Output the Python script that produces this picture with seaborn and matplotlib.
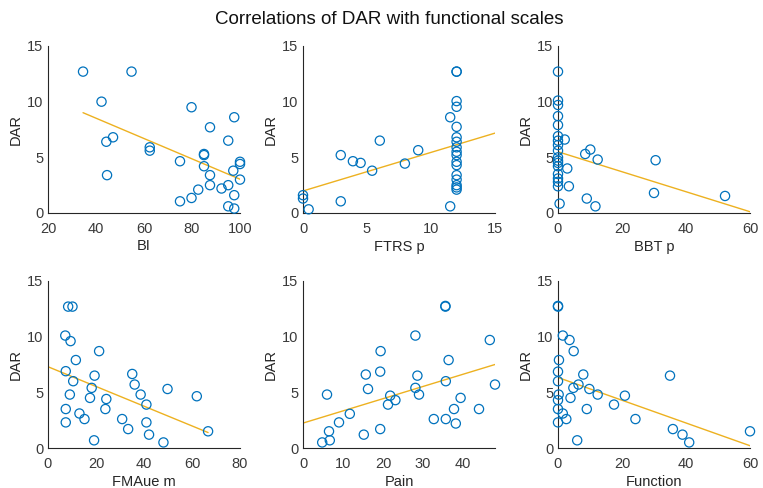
import numpy as np
import pandas as pd
import matplotlib
matplotlib.use("Agg")
import matplotlib.pyplot as plt
import seaborn as sns

# ---------------- data ----------------
title = "Correlations of DAR with functional scales"
y_label = "DAR"

bi = [34.6, 54.8, 42.3, 79.8, 97.6, 87.5, 47.1, 44.3, 95.1, 62.4, 62.4, 85, 85, 100, 100,
      75, 85, 97.2, 44.6, 87.5, 100, 82.6, 92.3, 87.5, 95.1, 97.6, 79.8, 75, 95.1, 97.6]
bi_dar = [12.7, 12.7, 10.0, 9.5, 8.6, 7.7, 6.8, 6.4, 6.5, 5.9, 5.6, 5.3, 5.2, 4.6, 4.4,
          4.65, 4.2, 3.8, 3.4, 3.4, 3.0, 2.1, 2.2, 2.5, 2.5, 1.6, 1.35, 1.05, 0.6, 0.4]

ftrs = [0, 0, 0.44, 2.95, 2.95, 3.9, 4.5, 5.4, 6.0, 7.96, 9.0, 11.5, 11.5,
        12, 12, 12, 12, 12, 12, 12, 12, 12, 12, 12, 12, 12, 12, 12, 12, 12]
ftrs_dar = [1.6, 1.3, 0.33, 5.2, 1.05, 4.65, 4.5, 3.8, 6.5, 4.44, 5.64, 8.6, 0.6,
            12.7, 12.7, 10.05, 9.54, 7.74, 6.8, 6.4, 5.9, 5.5, 4.6, 4.3, 3.4, 3.0, 2.5, 2.1, 2.3, 5.2]

bbt = [0, 0, 0, 0, 0, 0, 0, 0, 0, 0, 0, 0, 0, 0, 0, 0, 0, 0.5,
       2.1, 10.1, 8.5, 12.4, 2.9, 3.4, 9.0, 11.7, 30.5, 30.0, 52.2]
bbt_dar = [12.7, 10.1, 9.7, 8.7, 7.9, 6.9, 6.5, 6.1, 5.6, 5.0, 4.7, 4.5, 4.2, 3.5, 3.1, 2.8, 2.4, 0.84,
           6.6, 5.7, 5.3, 4.8, 4.0, 2.4, 1.3, 0.6, 4.74, 1.8, 1.53]

fma = [8.4, 10.2, 7.2, 9.4, 21.3, 11.6, 7.4, 19.4, 35.1, 10.5, 36.1, 18.2, 49.8, 9.1, 38.6, 17.5,
       62.0, 24.3, 41.0, 7.4, 23.9, 13.1, 15.2, 30.9, 7.4, 41.0, 33.4, 66.7, 42.1, 19.2, 48.1]
fma_dar = [12.7, 12.7, 10.1, 9.6, 8.7, 7.9, 6.9, 6.5, 6.65, 6.0, 5.7, 5.4, 5.3, 4.8, 4.8, 4.5,
           4.65, 4.4, 3.9, 3.5, 3.5, 3.1, 2.6, 2.6, 2.3, 2.3, 1.7, 1.5, 1.2, 0.69, 0.5]

pain = [35.6, 35.6, 28.1, 46.7, 19.4, 36.4, 19.3, 15.7, 28.6, 35.7, 48.0, 16.25, 28.1, 6.0, 29.0,
        21.8, 39.4, 23.1, 21.25, 37.75, 44.0, 11.7, 32.7, 35.7, 9.0, 38.2, 19.3, 6.5, 15.2, 6.7, 4.8]
pain_dar = [12.76, 12.7, 10.1, 9.7, 8.7, 7.9, 6.86, 6.6, 6.5, 6.0, 5.7, 5.3, 5.4, 4.8, 4.8,
            4.7, 4.5, 4.3, 3.9, 3.5, 3.5, 3.07, 2.6, 2.6, 2.3, 2.2, 1.7, 1.5, 1.2, 0.69, 0.5]

func = [0, 0, 1.5, 3.6, 4.9, 0.3, 0, 7.9, 35.0, 0, 6.4, 4.8, 9.8, 0.2, 12.4, 20.9, 3.9, 0,
        17.5, 0, 9.0, 1.5, 2.6, 24.2, 0, 35.9, 38.9, 60.0, 41.0, 6.0]
func_dar = [12.76, 12.7, 10.1, 9.7, 8.7, 7.9, 6.86, 6.6, 6.5, 6.0, 5.7, 5.4, 5.3, 4.8, 4.8, 4.7, 4.5, 4.3,
            3.9, 3.5, 3.5, 3.1, 2.6, 2.6, 2.3, 1.7, 1.2, 1.5, 0.5, 0.69]

x_labels = ["BI", "FTRS p", "BBT p", "FMAue m", "Pain", "Function"]
x_data = [bi, ftrs, bbt, fma, pain, func]
y_data = [bi_dar, ftrs_dar, bbt_dar, fma_dar, pain_dar, func_dar]
x_limits = [(20, 100), (0, 15), (0, 60), (0, 80), (0, 48), (0, 60)]
x_ticks = [[20, 40, 60, 80, 100], [0, 5, 10, 15], [0, 20, 40, 60],
           [0, 20, 40, 60, 80], [0, 10, 20, 30, 40], [0, 20, 40, 60]]
fit_ranges = [(34.6, 100), (0, 15), (0, 60), (0, 66.7), (0, 48), (0, 60)]
y_limits = (0, 15)
y_ticks = [0, 5, 10, 15]

# ---------------- style ----------------
sns.set_theme(style="white")
plt.rcParams["font.family"] = ["Liberation Sans", "DejaVu Sans"]
dark = "#262626"
blue = "#0072BD"
gold = "#EDB120"

W, H = 763, 488
fig = plt.figure(figsize=(W / 100, H / 100), dpi=100)
fig.patch.set_facecolor("white")

lefts = [48, 303, 558]
tops = [46, 281]
aw, ah = 192, 167

for i in range(6):
    r, c = divmod(i, 3)
    ax = fig.add_axes([lefts[c] / W, 1 - (tops[r] + ah) / H, aw / W, ah / H])
    df = pd.DataFrame({"x": x_data[i], "y": y_data[i]})
    sns.scatterplot(data=df, x="x", y="y", ax=ax, marker="o", s=44,
                    facecolor="none", edgecolor=blue, linewidth=0.9, zorder=3,
                    clip_on=False)
    k, b = np.polyfit(df["x"], df["y"], 1)
    fx = np.array(fit_ranges[i], dtype=float)
    fit_df = pd.DataFrame({"x": fx, "y": k * fx + b})
    sns.lineplot(data=fit_df, x="x", y="y", ax=ax, color=gold, linewidth=1.0, zorder=2)
    ax.set_xlim(*x_limits[i])
    ax.set_ylim(*y_limits)
    ax.set_xticks(x_ticks[i])
    ax.set_yticks(y_ticks)
    ax.set_xlabel(x_labels[i], fontsize=10.5, color=dark, labelpad=2.5)
    ax.set_ylabel(y_label, fontsize=10.5, color=dark, labelpad=3)
    for side in ("top", "right"):
        ax.spines[side].set_visible(False)
    for side in ("left", "bottom"):
        ax.spines[side].set_color(dark)
        ax.spines[side].set_linewidth(0.8)
    ax.tick_params(direction="in", length=2.5, width=0.7, colors=dark, labelsize=10.5,
                   labelcolor="#3a3a3a")
    ax.tick_params(axis="x", pad=6.5)
    ax.tick_params(axis="y", pad=3.5)
    ax.patch.set_alpha(0)

fig.text(389 / W, 1 - 20 / H, title, ha="center", va="center", fontsize=13.5, color="#111111")
fig.savefig("out.png", dpi=100, facecolor="white")
